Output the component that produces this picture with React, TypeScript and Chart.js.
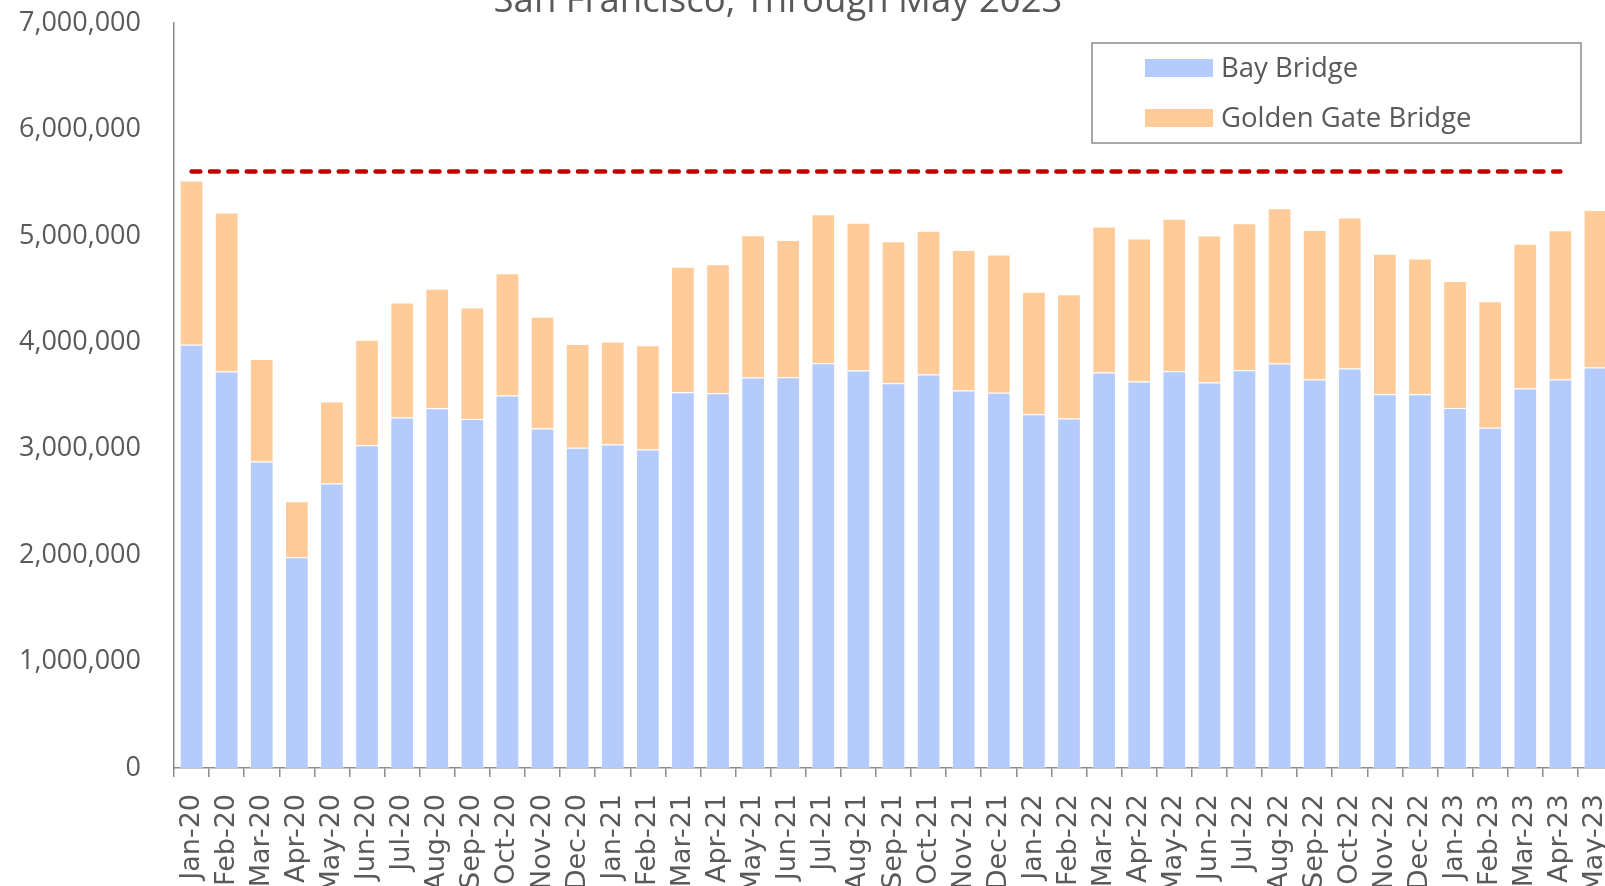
import React, { useEffect, useRef } from 'react';
import { Chart, registerables } from 'chart.js';

Chart.register(...registerables);

const months = [
  'Jan-20', 'Feb-20', 'Mar-20', 'Apr-20', 'May-20', 'Jun-20', 'Jul-20', 'Aug-20', 'Sep-20', 'Oct-20', 'Nov-20', 'Dec-20',
  'Jan-21', 'Feb-21', 'Mar-21', 'Apr-21', 'May-21', 'Jun-21', 'Jul-21', 'Aug-21', 'Sep-21', 'Oct-21', 'Nov-21', 'Dec-21',
  'Jan-22', 'Feb-22', 'Mar-22', 'Apr-22', 'May-22', 'Jun-22', 'Jul-22', 'Aug-22', 'Sep-22', 'Oct-22', 'Nov-22', 'Dec-22',
  'Jan-23', 'Feb-23', 'Mar-23', 'Apr-23', 'May-23',
];

const bayBridge = [
  3976000, 3725000, 2879000, 1980000, 2672000, 3033000, 3293000, 3380000, 3280000, 3500000, 3189000, 3010000,
  3039000, 2992000, 3531000, 3521000, 3668000, 3672000, 3803000, 3734000, 3615000, 3697000, 3546000, 3527000,
  3324000, 3283000, 3716000, 3631000, 3728000, 3621000, 3737000, 3800000, 3650000, 3753000, 3512000, 3512000,
  3383000, 3198000, 3565000, 3650000, 3762000,
];

const goldenGate = [
  1544000, 1495000, 965000, 526000, 771000, 990000, 1080000, 1122000, 1046000, 1149000, 1050000, 975000,
  968000, 980000, 1178000, 1213000, 1338000, 1290000, 1401000, 1388000, 1335000, 1350000, 1322000, 1297000,
  1150000, 1169000, 1372000, 1344000, 1432000, 1382000, 1382000, 1460000, 1406000, 1419000, 1319000, 1275000,
  1194000, 1188000, 1360000, 1403000, 1482000,
];

const referenceLine = [
  { x: 'Jan-20', y: 5604000 },
  { x: 'Apr-23', y: 5604000 },
];

const yTicks = [0, 1000000, 2000000, 3000000, 4000000, 5000000, 6000000, 7000000];

const titleText = 'San Francisco, Through May 2023';

const TEXT = '#595959';
const AXIS = '#8c8c8c';
const BLUE = '#b4cbfc';
const ORANGE = '#ffcb99';

const overlayPlugin = {
  id: 'overlay',
  afterDraw(chart: any) {
    const ctx = chart.ctx as CanvasRenderingContext2D;
    ctx.save();
    // title (upper part cropped off by the frame)
    ctx.fillStyle = TEXT;
    ctx.font = '36.5px "Open Sans"';
    ctx.textAlign = 'center';
    ctx.textBaseline = 'alphabetic';
    ctx.fillText(titleText, 778, 11.5);

    // legend box
    ctx.fillStyle = '#ffffff';
    ctx.fillRect(1092, 43, 489, 100);
    ctx.strokeStyle = AXIS;
    ctx.lineWidth = 1.5;
    ctx.strokeRect(1092, 43, 489, 100);
    const items = chart.data.datasets.filter((d: any) => d.type !== 'line');
    items.forEach((ds: any, i: number) => {
      const cy = 68 + i * 50;
      ctx.fillStyle = ds.backgroundColor;
      ctx.fillRect(1145, cy - 9, 68, 18);
      ctx.fillStyle = TEXT;
      ctx.font = '27.5px "Open Sans"';
      ctx.textAlign = 'left';
      ctx.textBaseline = 'middle';
      ctx.fillText(ds.label, 1221, cy + 1);
    });
    ctx.restore();
  },
};

function BridgeChart() {
  const ref = useRef<HTMLCanvasElement | null>(null);

  useEffect(() => {
    if (!ref.current) return;
    const chart = new Chart(ref.current, {
      type: 'bar',
      data: {
        labels: months,
        datasets: [
          {
            type: 'bar',
            label: 'Bay Bridge',
            data: bayBridge,
            backgroundColor: BLUE,
            borderColor: 'rgba(255,255,255,0.55)',
            borderWidth: 1,
            stack: 'bridges',
            barPercentage: 0.675,
            categoryPercentage: 1,
            order: 2,
          },
          {
            type: 'bar',
            label: 'Golden Gate Bridge',
            data: goldenGate,
            backgroundColor: ORANGE,
            borderColor: 'rgba(255,255,255,0.55)',
            borderWidth: 1,
            stack: 'bridges',
            barPercentage: 0.675,
            categoryPercentage: 1,
            order: 2,
          },
          {
            type: 'line',
            label: 'Reference',
            data: referenceLine as any,
            borderColor: '#c00000',
            borderWidth: 4.5,
            borderDash: [8.8, 9.6],
            borderCapStyle: 'round',
            pointRadius: 0,
            fill: false,
            stack: 'reference',
            order: 1,
          } as any,
        ],
      },
      options: {
        responsive: false,
        animation: false,
        layout: { padding: { top: 23, right: 17, bottom: 0, left: 0 } },
        plugins: {
          legend: { display: false },
          title: { display: false },
          tooltip: { enabled: false },
        },
        scales: {
          x: {
            stacked: true,
            offset: true,
            grid: {
              display: true,
              drawOnChartArea: false,
              drawTicks: true,
              tickLength: 9,
              offset: true,
              color: AXIS,
              lineWidth: 1.5,
            },
            border: { display: true, color: AXIS, width: 1.5 },
            ticks: {
              autoSkip: false,
              minRotation: 90,
              maxRotation: 90,
              padding: 17,
              color: TEXT,
              font: { family: '"DejaVu Sans"', size: 27 },
            },
            afterFit: (scale: any) => {
              scale.height = 118;
              scale.paddingLeft = 0;
              scale.paddingRight = 0;
            },
          },
          y: {
            stacked: true,
            min: 0,
            max: 7000000,
            grid: { display: false, drawTicks: false, tickLength: 0 },
            border: { display: true, color: AXIS, width: 1.5 },
            afterBuildTicks: (scale: any) => {
              scale.ticks = yTicks.map((v) => ({ value: v }));
            },
            ticks: {
              padding: 33,
              color: TEXT,
              font: { family: '"Open Sans"', size: 27 },
              callback: (v: any) => Number(v).toLocaleString('en-US'),
            },
            afterFit: (scale: any) => {
              scale.width = 174;
              scale.paddingTop = 0;
              scale.paddingBottom = 0;
            },
          },
        },
      },
      plugins: [overlayPlugin],
    });
    return () => chart.destroy();
  }, []);

  return (
    <canvas
      ref={ref}
      width={1630}
      height={886}
      style={{ width: 1630, height: 886, display: 'block' }}
    />
  );
}

export default function App() {
  return (
    <div
      style={{
        position: 'fixed',
        left: 0,
        top: 0,
        width: 1605,
        height: 886,
        overflow: 'hidden',
        background: '#ffffff',
      }}
    >
      <BridgeChart />
    </div>
  );
}
